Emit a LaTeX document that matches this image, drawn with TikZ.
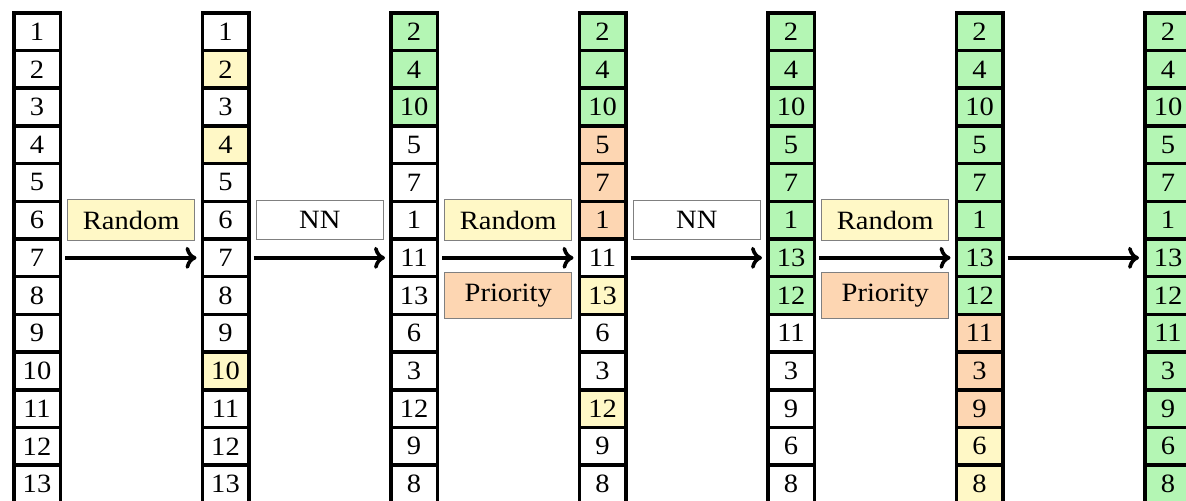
\documentclass[tikz,border=0pt]{standalone}
\usepackage{fontspec}
\setmainfont{Liberation Serif}[FakeStretch=1.08]
\usepackage{tikz}
\usetikzlibrary{arrows.meta,calc}
\usepackage{xcolor}

\definecolor{pickyellow}{RGB}{255,248,198}
\definecolor{doneGreen}{RGB}{180,246,180}
\definecolor{prioOrange}{RGB}{253,214,178}

% one column of 13 cells: #1 = column index, #2 = list value/style
\newcommand{\cellcolumn}[2]{%
  \foreach [count=\r] \v/\f in {#2}
    \node[cell, \f] (c#1-\r) at ({37+188.5*#1}, {-6.05+37.7*\r}) {\v};
}

\begin{document}
\begin{tikzpicture}[
  x=0.5pt, y=-0.5pt,
  font=\fontsize{13.2}{15}\selectfont,
  cell/.style={rectangle, draw, line width=1.75pt, inner sep=0pt,
               minimum width=23.25pt, minimum height=18.85pt},
  cw/.style={fill=white},
  cy/.style={fill=pickyellow},
  cg/.style={fill=doneGreen},
  co/.style={fill=prioOrange},
  lbl/.style={rectangle, draw=gray, line width=0.5pt, inner xsep=2pt,
              inner ysep=5.5pt, minimum width=63.5pt},
  arrow/.style={-{To[length=5.5pt,width=11pt]}, line width=1.8pt,
                shorten <=1.5pt, shorten >=2pt}
]
  \useasboundingbox (0,0) rectangle (1186,501);
  \clip (0,0) rectangle (1186,501);

  % Columns
  \cellcolumn{0}{1/cw,2/cw,3/cw,4/cw,5/cw,6/cw,7/cw,8/cw,9/cw,10/cw,11/cw,12/cw,13/cw}
  \cellcolumn{1}{1/cw,2/cy,3/cw,4/cy,5/cw,6/cw,7/cw,8/cw,9/cw,10/cy,11/cw,12/cw,13/cw}
  \cellcolumn{2}{2/cg,4/cg,10/cg,5/cw,7/cw,1/cw,11/cw,13/cw,6/cw,3/cw,12/cw,9/cw,8/cw}
  \cellcolumn{3}{2/cg,4/cg,10/cg,5/co,7/co,1/co,11/cw,13/cy,6/cw,3/cw,12/cy,9/cw,8/cw}
  \cellcolumn{4}{2/cg,4/cg,10/cg,5/cg,7/cg,1/cg,13/cg,12/cg,11/cw,3/cw,9/cw,6/cw,8/cw}
  \cellcolumn{5}{2/cg,4/cg,10/cg,5/cg,7/cg,1/cg,13/cg,12/cg,11/co,3/co,9/co,6/cy,8/cy}
  \cellcolumn{6}{2/cg,4/cg,10/cg,5/cg,7/cg,1/cg,13/cg,12/cg,11/cg,3/cg,9/cg,6/cg,8/cg}

  % Arrows
  \foreach \i [evaluate=\i as \j using int(\i+1)] in {0,...,5}
    \draw[arrow] (c\i-7.east) -- (c\j-7.west);

  % Step labels
  \node[lbl, fill=pickyellow] (rnd1) at ($(c0-6.east)!0.5!(c1-6.west)$) {Random};
  \node[lbl, fill=white]      (nn1)  at ($(c1-6.east)!0.5!(c2-6.west)$) {NN};
  \node[lbl, fill=pickyellow] (rnd2) at ($(c2-6.east)!0.5!(c3-6.west)$) {Random};
  \node[lbl, fill=prioOrange] (pri2) at ($(c2-8.east)!0.5!(c3-8.west)$) {Priority};
  \node[lbl, fill=white]      (nn2)  at ($(c3-6.east)!0.5!(c4-6.west)$) {NN};
  \node[lbl, fill=pickyellow] (rnd3) at ($(c4-6.east)!0.5!(c5-6.west)$) {Random};
  \node[lbl, fill=prioOrange] (pri3) at ($(c4-8.east)!0.5!(c5-8.west)$) {Priority};
\end{tikzpicture}
\end{document}
